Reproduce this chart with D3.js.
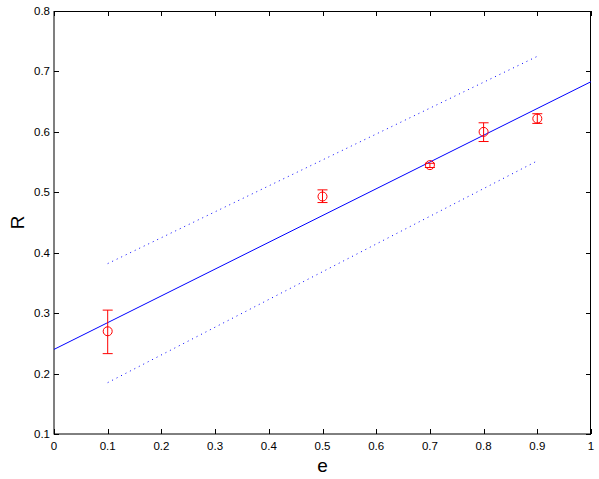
<!DOCTYPE html>
<html><head><meta charset="utf-8">
<script src="https://cdn.jsdelivr.net/npm/d3@7"></script>
<style>body{margin:0;background:#fff}svg{display:block}</style>
</head><body>
<script>
const xTicks = [0,0.1,0.2,0.3,0.4,0.5,0.6,0.7,0.8,0.9,1];
const yTicks = [0.1,0.2,0.3,0.4,0.5,0.6,0.7,0.8];
const eValues = [0.1,0.5,0.7,0.8,0.9];
const rValues = [0.270,0.493,0.545,0.600,0.622];
const rLow = [0.233,0.483,0.541,0.584,0.614];
const rHigh = [0.305,0.504,0.548,0.615,0.630];
const fitX = [0,1];
const fitY = [0.240,0.683];
const bandX = [0.1,0.9];
const bandUpper = [0.382,0.725];
const bandLower = [0.185,0.552];

const W=599,H=479;
const svg=d3.select("body").append("svg").attr("width",W).attr("height",H);
const L=54,R=591,T=11,B=434;
const x=d3.scaleLinear().domain([0,1]).range([L,R]);
const y=d3.scaleLinear().domain([0.1,0.8]).range([B,T]);
const font="Liberation Sans, Arial, Helvetica, sans-serif";

// box
svg.append("rect").attr("x",L).attr("y",T+0.5).attr("width",R-L-0.5).attr("height",B-T-0.5)
  .attr("fill","none").attr("stroke","#000").attr("stroke-width",1);

const tl=5;
const g=svg.append("g").attr("stroke","#000").attr("stroke-width",1);
xTicks.forEach(t=>{
  const px=Math.round(x(t))+0.5;
  g.append("line").attr("x1",px).attr("x2",px).attr("y1",B).attr("y2",B-tl);
  g.append("line").attr("x1",px).attr("x2",px).attr("y1",T).attr("y2",T+tl);
});
yTicks.forEach(t=>{
  const py=Math.round(y(t))+0.5;
  g.append("line").attr("x1",L).attr("x2",L+tl).attr("y1",py).attr("y2",py);
  g.append("line").attr("x1",R).attr("x2",R-tl).attr("y1",py).attr("y2",py);
});
svg.selectAll(".xl").data(xTicks).enter().append("text")
  .attr("x",d=>x(d)).attr("y",B+16).attr("text-anchor","middle")
  .attr("font-family",font).attr("font-size",11.5).text(d=>d3.format("")(d));
svg.selectAll(".yl").data(yTicks).enter().append("text")
  .attr("x",L-4).attr("y",d=>y(d)+4).attr("text-anchor","end")
  .attr("font-family",font).attr("font-size",11.5).text(d=>d3.format(".1f")(d));

svg.append("text").attr("x",(L+R)/2).attr("y",472).attr("text-anchor","middle")
  .attr("font-family",font).attr("font-size",19).text("e");
svg.append("text").attr("transform",`translate(24,${(T+B)/2}) rotate(-90)`).attr("text-anchor","middle")
  .attr("font-family",font).attr("font-size",19).text("R");

const line=d3.line().x(d=>x(d[0])).y(d=>y(d[1]));
svg.append("path").attr("d",line(fitX.map((v,i)=>[v,fitY[i]]))).attr("fill","none").attr("stroke","#0000ff").attr("stroke-width",1);
[bandUpper,bandLower].forEach(arr=>{
  svg.append("path").attr("d",line(bandX.map((v,i)=>[v,arr[i]]))).attr("fill","none")
    .attr("stroke","#0000ff").attr("stroke-width",1).attr("stroke-dasharray","1,4");
});

const pg=svg.append("g").attr("stroke","#ff0000").attr("fill","none").attr("stroke-width",1);
eValues.forEach((e,i)=>{
  const px=x(e);
  pg.append("line").attr("x1",px).attr("x2",px).attr("y1",y(rLow[i])).attr("y2",y(rHigh[i]));
  pg.append("line").attr("x1",px-5).attr("x2",px+5).attr("y1",y(rLow[i])).attr("y2",y(rLow[i]));
  pg.append("line").attr("x1",px-5).attr("x2",px+5).attr("y1",y(rHigh[i])).attr("y2",y(rHigh[i]));
  pg.append("circle").attr("cx",px).attr("cy",y(rValues[i])).attr("r",4.5);
});
</script>
</body></html>
